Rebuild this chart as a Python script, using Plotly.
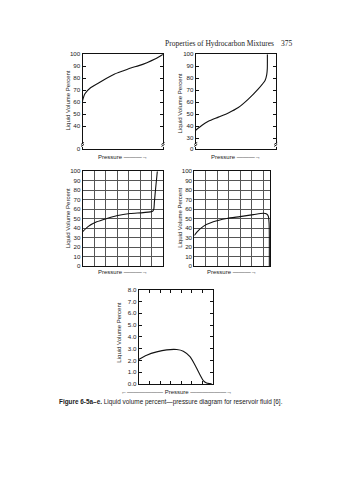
import plotly.graph_objects as go

# ---------------- data (pressure as fraction of axis span, liquid volume %) ----------------
p_a = [0.0, 0.03, 0.10, 0.20, 0.30, 0.40, 0.50, 0.60, 0.70, 0.80, 0.90, 1.0]
v_a = [61, 67, 72, 76, 80, 83.5, 86, 88.5, 90.5, 93, 96, 100]

p_b = [0.0, 0.075, 0.158, 0.283, 0.408, 0.533, 0.658, 0.783, 0.867, 0.888, 0.895, 0.896, 0.896]
v_b = [36.5, 40.5, 44, 47.5, 51, 55.5, 62.5, 71, 78, 83, 88, 93, 100]

p_c = [0.0, 0.07, 0.174, 0.30, 0.42, 0.587, 0.752, 0.868, 0.882, 0.89, 0.905, 0.926]
v_c = [36.3, 41.9, 46.7, 50.2, 53, 55.4, 56.4, 57.8, 60, 68, 82, 100]

p_d = [0.0, 0.031, 0.119, 0.251, 0.427, 0.604, 0.78, 0.912, 0.956, 0.978, 0.988, 0.991, 0.991]
v_d = [32.2, 35.6, 41.9, 46.7, 50.2, 52.2, 54.3, 55.7, 55.0, 52.5, 45, 30, 0]

p_e = [0.0, 0.107, 0.241, 0.375, 0.509, 0.598, 0.6875, 0.754, 0.821, 0.866, 0.91, 0.95, 0.978]
v_e = [2.08, 2.44, 2.72, 2.89, 2.92, 2.78, 2.31, 1.61, 0.78, 0.28, 0.08, 0.02, 0.0]

ticks_a = ["0", "40", "50", "60", "70", "80", "90", "100"]
ticks_b = ["0", "30", "40", "50", "60", "70", "80", "90", "100"]
ticks_cd = [str(v) for v in range(0, 101, 10)]
ticks_e = ["%.1f" % (v / 1) for v in range(0, 9)]

W, H = 344, 480
FONT = "Liberation Sans Narrow, Liberation Sans, Arial"
TICKF = dict(family=FONT, size=6.2, color="#1a1a1a")

def px(x):
    return x / W

def py(y):
    return 1 - y / H

fig = go.Figure()
curves = [(p_a, v_a), (p_b, v_b), (p_c, v_c), (p_d, v_d), (p_e, v_e)]
for i, (xs, ys) in enumerate(curves):
    n = "" if i == 0 else str(i + 1)
    fig.add_trace(go.Scatter(x=xs, y=ys, mode="lines", xaxis="x" + n, yaxis="y" + n,
                             line=dict(color="#111", width=1.1, shape="spline", smoothing=0.7),
                             showlegend=False, hoverinfo="skip"))

domains = [
    ((82.5, 163.0), (51, 147)),
    ((195.7, 275.7), (51, 147)),
    ((82.7, 163.3), (169.7, 266)),
    ((194.3, 270.0), (169.7, 266)),
    ((138.7, 213.3), (290, 385.5)),
]

axcommon = dict(showline=True, linecolor="#111", linewidth=1, mirror=True, zeroline=False,
                tickfont=TICKF)

layout = dict(width=W, height=H, margin=dict(l=0, r=0, t=0, b=0),
              paper_bgcolor="white", plot_bgcolor="white", showlegend=False)

grid7 = [k / 7 for k in range(8)]
grid_d = [k * 0.152 for k in range(7)]
for i, ((x0, x1), (yt, yb)) in enumerate(domains):
    n = "" if i == 0 else str(i + 1)
    xa = dict(axcommon, domain=[px(x0), px(x1)], range=[0, 1], anchor="y" + n,
              showticklabels=False, showgrid=False, ticks="")
    ya = dict(axcommon, domain=[py(yb), py(yt)], anchor="x" + n, ticks="inside",
              ticklen=3, tickcolor="#111", showgrid=False, mirror="ticks")
    if i == 0:
        ya.update(range=[21, 100], tickvals=[21, 40, 50, 60, 70, 80, 90, 100], ticktext=ticks_a)
    elif i == 1:
        ya.update(range=[21, 100], tickvals=[21, 30, 40, 50, 60, 70, 80, 90, 100], ticktext=ticks_b)
    elif i in (2, 3):
        ya.update(range=[0, 100], tickvals=list(range(0, 101, 10)), ticktext=ticks_cd,
                  showgrid=True, gridcolor="#555", gridwidth=1, ticks="", mirror=True)
        xa.update(showgrid=True, gridcolor="#555", gridwidth=1,
                  tickvals=grid7 if i == 2 else grid_d)
    else:
        ya.update(range=[0, 8], tickvals=list(range(0, 9)), ticktext=ticks_e)
        xa.update(ticks="inside", ticklen=3, tickcolor="#111", mirror="ticks",
                  tickvals=[k / 7 for k in range(1, 7)])
    layout["xaxis" + n] = xa
    layout["yaxis" + n] = ya

fig.update_layout(**layout)

def note(x, y, text, size=6, family=FONT, xanchor="center", angle=0):
    return dict(x=px(x), y=py(y), xref="paper", yref="paper", xanchor=xanchor, yanchor="middle",
                text=text, textangle=angle, showarrow=False,
                font=dict(family=family, size=size, color="#1a1a1a"))

ann = []
# y-axis titles
for (x, y) in [(68, 98), (180, 101), (67.5, 218), (180, 217), (119.5, 334)]:
    ann.append(note(x, y, "Liquid Volume Percent", angle=-90))
# x-axis titles
for (x0, x1), yb in [((82.5, 163.0), 155), ((195.7, 275.7), 155), ((82.7, 163.3), 272),
                    ((194.3, 270.0), 272)]:
    ann.append(note((x0 + x1) / 2, yb, "Pressure \u2014\u2014\u2014\u2192"))
ann.append(note(176, 394, "\u2190\u2014\u2014\u2014\u2014\u2014\u2014 Pressure \u2014\u2014\u2014\u2014\u2014\u2014\u2192"))
# page header and caption
ann.append(note(163, 40, "Properties of Hydrocarbon Mixtures", size=7.5,
                family="Liberation Serif, serif", xanchor="left"))
ann.append(note(279, 40, "375", size=7.5, family="Liberation Serif, serif", xanchor="left"))
ann.append(note(57, 404, "<b>Figure 6-5a\u2013e.</b> Liquid volume percent\u2014pressure diagram for reservoir fluid [6].",
                size=6.4, family="Liberation Sans, Arial", xanchor="left"))
fig.update_layout(annotations=ann)

# axis break marks on the two broken axes
shapes = []
for (x0, x1) in [(82.5, 163.0), (195.7, 275.7)]:
    for xe in (x0, x1):
        shapes.append(dict(type="line", xref="paper", yref="paper", x0=px(xe), x1=px(xe),
                           y0=py(145), y1=py(141.5), line=dict(color="white", width=3)))
        shapes.append(dict(type="line", xref="paper", yref="paper", x0=px(xe - 1.5), x1=px(xe + 1.5),
                           y0=py(144.5), y1=py(142.5), line=dict(color="#111", width=1)))
        shapes.append(dict(type="line", xref="paper", yref="paper", x0=px(xe - 1.5), x1=px(xe + 1.5),
                           y0=py(142.5), y1=py(140.5), line=dict(color="#111", width=1)))
fig.update_layout(shapes=shapes)

fig.write_html("out.html")
